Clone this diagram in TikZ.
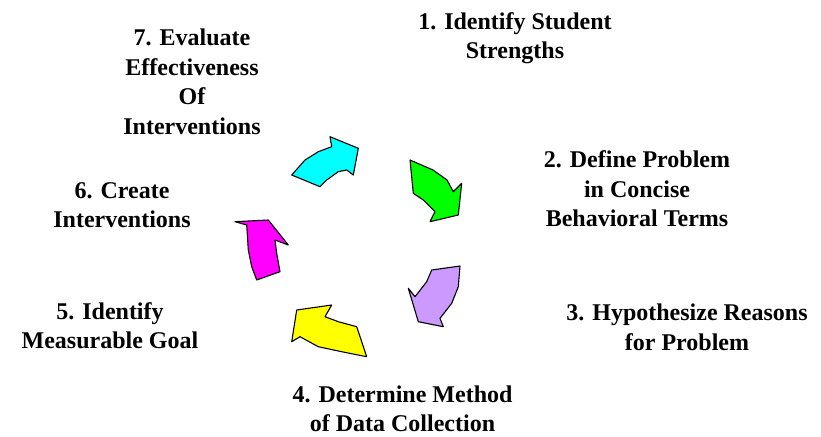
\documentclass[tikz,border=0pt]{standalone}
\usepackage{fontspec}
\setmainfont{Liberation Serif}[BoldFont={Liberation Serif Bold}]
\newfontfamily\stepfont{Liberation Serif Bold}
\definecolor{aqua}{RGB}{0,255,255}
\definecolor{lime}{RGB}{0,255,0}
\definecolor{lavender}{RGB}{204,153,255}
\definecolor{lemon}{RGB}{255,255,0}
\definecolor{fuchsia}{RGB}{255,0,255}
\begin{document}
\begin{tikzpicture}[
      x=1pt, y=-1pt,
      steptext/.style={align=center, inner sep=0pt, anchor=north, font=\fontsize{24}{29.5}\selectfont\stepfont},
      cyclearrow/.style={draw=black, line width=1.1pt, line join=round}
    ]
      \useasboundingbox (0,0) rectangle (821,436);

      % Step labels
      \node[steptext] (identify) at (515,12) {1. Identify Student\\Strengths};
      \node[steptext] (define) at (637,150.5) {2. Define Problem\\in Concise\\Behavioral Terms};
      \node[steptext] (hypothesize) at (687,304) {3. Hypothesize Reasons\\for Problem};
      \node[steptext] (method) at (402.5,385.5) {4. Determine Method\\of Data Collection};
      \node[steptext] (goal) at (110,302) {5. Identify\\Measurable Goal};
      \node[steptext] (create) at (122,182) {6. Create\\Interventions};
      \node[steptext] (evaluate) at (192,29) {7. Evaluate\\Effectiveness\\Of\\Interventions};

      % Arrows of the cycle
      \draw[cyclearrow, fill=aqua] (291.7,175) -- (305,160) -- (318.3,151.7) -- (331.7,146.7) -- (330,136.7)
        -- (358.3,148.3) -- (353.3,175) -- (346.7,170) -- (338.3,171.7) -- (326.7,180) -- (320,186.7) -- cycle;
      \draw[cyclearrow, fill=lime] (410,160) -- (433,170) -- (447,180) -- (453.3,191.7) -- (461.7,183.3)
        -- (458.3,215) -- (430,221.7) -- (435,211.7) -- (423.3,200) -- (413.3,193.3) -- cycle;
      \draw[cyclearrow, fill=lavender] (431.7,270) -- (460,266) -- (458.3,286.7) -- (451.7,303.3) -- (440,318.3)
        -- (443.3,326.7) -- (418.3,321.7) -- (408.3,288.3) -- (415,296.7) -- (426.7,281.7) -- cycle;
      \draw[cyclearrow, fill=lemon] (366.7,356.7) -- (356.7,326.7) -- (338.3,321.7) -- (325,316.7) -- (331.7,305)
        -- (296.7,310) -- (291.7,341.7) -- (300,336.7) -- (318.3,346.7) -- (341.7,351.7) -- cycle;
      \draw[cyclearrow, fill=fuchsia] (256.7,280) -- (280,271.7) -- (276.7,253.3) -- (275,240) -- (288.3,245)
        -- (268.3,220) -- (235,221.7) -- (246.7,225) -- (248.3,250) -- (251.7,266.7) -- cycle;
    \end{tikzpicture}
\end{document}
